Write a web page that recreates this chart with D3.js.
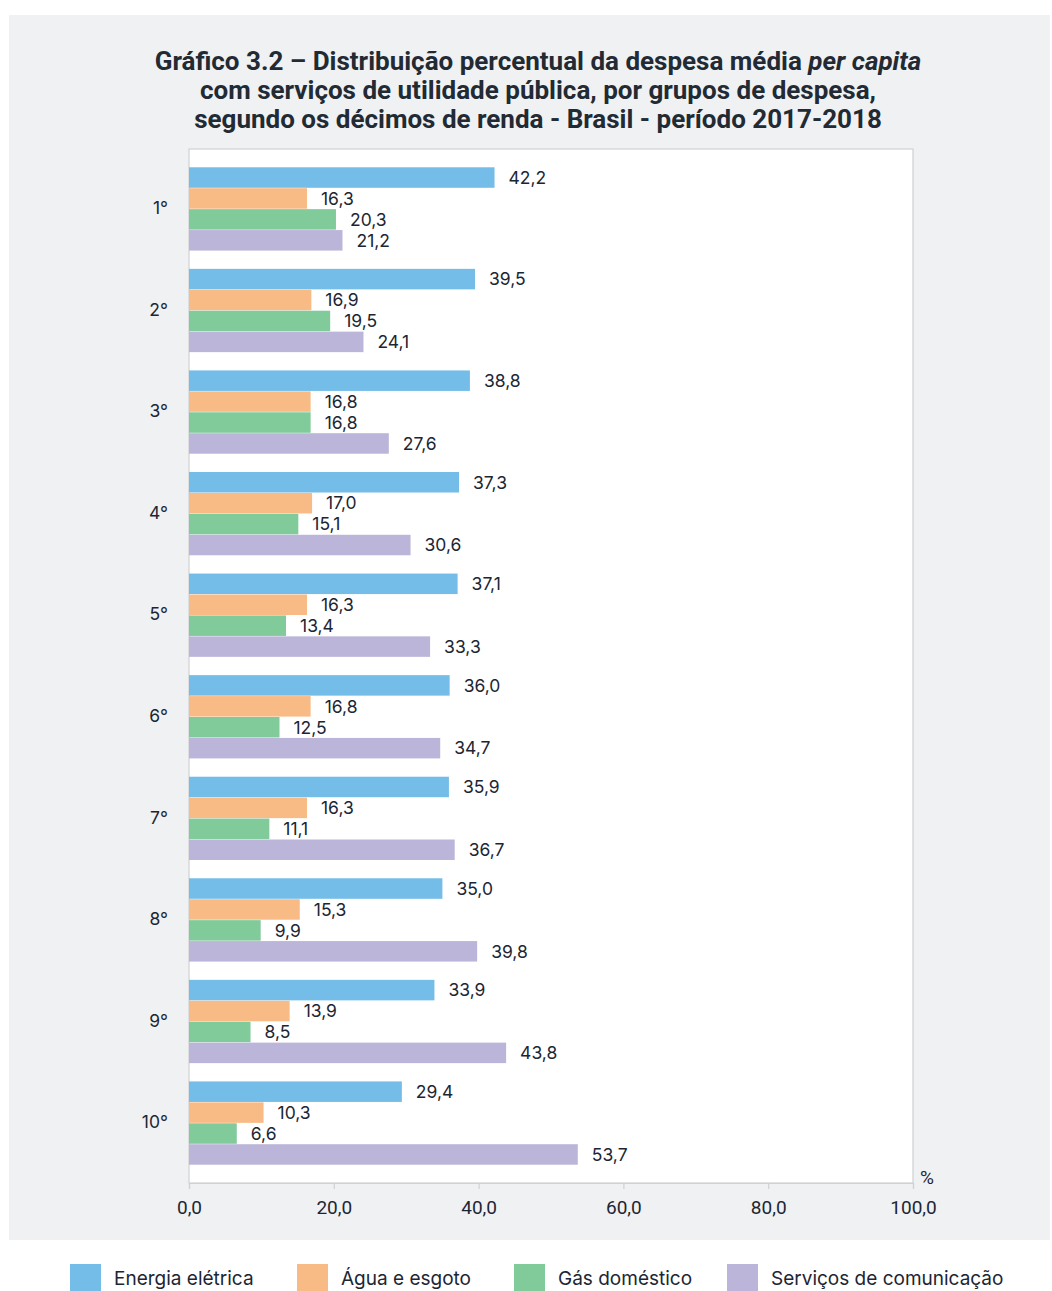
<!DOCTYPE html>
<html lang="pt">
<head>
<meta charset="utf-8">
<script src="https://cdn.jsdelivr.net/npm/d3@7"></script>
<style>
  html, body { margin: 0; padding: 0; background: #ffffff; }
  svg { display: block; }
  .title { font-family: Roboto, "Noto Sans", sans-serif; font-weight: 700; font-size: 26px; fill: #222a33; }
  .val { font-family: Inter, Roboto, sans-serif; font-size: 17.5px; fill: #1c2633; }
  .cat { font-family: Inter, Roboto, sans-serif; font-size: 17.5px; fill: #1c2633; }
  .tick-lbl { font-family: Roboto, "Noto Sans", sans-serif; font-size: 19px; fill: #1c2633; }
  .leg { font-family: Inter, Roboto, sans-serif; font-size: 19px; fill: #1c2633; }
</style>
</head>
<body>
<svg id="chart"></svg>
<script>
// Gráfico 3.2 - despesa per capita com serviços de utilidade pública

const deciles = ['1°', '2°', '3°', '4°', '5°', '6°', '7°', '8°', '9°', '10°'];
const seriesNames = ['Energia elétrica', 'Água e esgoto', 'Gás doméstico', 'Serviços de comunicação'];
const seriesColors = ['#74bde8', '#f9bb86', '#81cb9b', '#bbb6d9'];

const energia = [42.2, 39.5, 38.8, 37.3, 37.1, 36.0, 35.9, 35.0, 33.9, 29.4];
const agua = [16.3, 16.9, 16.8, 17.0, 16.3, 16.8, 16.3, 15.3, 13.9, 10.3];
const gas = [20.3, 19.5, 16.8, 15.1, 13.4, 12.5, 11.1, 9.9, 8.5, 6.6];
const comunicacao = [21.2, 24.1, 27.6, 30.6, 33.3, 34.7, 36.7, 39.8, 43.8, 53.7];

const xTicks = [0, 20, 40, 60, 80, 100];
const titleLines = [
    'Gráfico 3.2 – Distribuição percentual da despesa média ',
    'com serviços de utilidade pública, por grupos de despesa,',
    'segundo os décimos de renda - Brasil - período 2017-2018'
];

(function () {
    const WIDTH = 1052;
    const HEIGHT = 1291;
    const PLOT = { left: 189, right: 913, top: 149, bottom: 1183 };

    const fmt = v => v.toFixed(1).replace('.', ',');
    const allSeries = [energia, agua, gas, comunicacao];

    const rows = deciles.map((d, i) => ({
        decile: d,
        values: allSeries.map((s, k) => ({ key: seriesNames[k], k, value: s[i] }))
    }));

    const svg = d3.select('#chart')
        .attr('width', WIDTH)
        .attr('height', HEIGHT);

    // Gray panel
    svg.append('rect')
        .attr('x', 9).attr('y', 15)
        .attr('width', 1041).attr('height', 1225)
        .attr('fill', '#f0f1f3');

    // Title
    const title = svg.append('text')
        .attr('class', 'title')
        .attr('text-anchor', 'middle');
    titleLines.forEach((line, i) => {
        title.append('tspan')
            .attr('x', 538)
            .attr('y', 70 + i * 29)
            .text(line);
        if (i === 0) {
            title.append('tspan').attr('font-style', 'italic').text('per capita');
        }
    });

    // Scales
    const x = d3.scaleLinear()
        .domain([0, 100])
        .range([PLOT.left, PLOT.right]);

    const y = d3.scaleBand()
        .domain(deciles)
        .range([PLOT.top, PLOT.bottom])
        .paddingInner(0.18)
        .paddingOuter(0.18);

    const ySub = d3.scaleBand()
        .domain(seriesNames)
        .range([0, y.bandwidth()])
        .paddingInner(0.02);

    // Plot area
    svg.append('rect')
        .attr('x', PLOT.left).attr('y', PLOT.top)
        .attr('width', PLOT.right - PLOT.left)
        .attr('height', PLOT.bottom - PLOT.top)
        .attr('fill', '#ffffff')
        .attr('stroke', '#cfd1d4')
        .attr('stroke-width', 1.2);

    // Bars
    const groups = svg.append('g')
        .selectAll('g')
        .data(rows)
        .join('g')
        .attr('transform', d => `translate(0,${y(d.decile)})`);

    groups.selectAll('rect')
        .data(d => d.values)
        .join('rect')
        .attr('x', x(0))
        .attr('y', d => ySub(d.key))
        .attr('width', d => x(d.value) - x(0))
        .attr('height', ySub.bandwidth())
        .attr('fill', d => seriesColors[d.k]);

    groups.selectAll('text.val')
        .data(d => d.values)
        .join('text')
        .attr('class', 'val')
        .attr('x', d => x(d.value) + 14)
        .attr('y', d => ySub(d.key) + ySub.bandwidth() / 2)
        .attr('dy', '0.36em')
        .text(d => fmt(d.value));

    // Category labels
    svg.append('g')
        .selectAll('text')
        .data(deciles)
        .join('text')
        .attr('class', 'cat')
        .attr('x', 168)
        .attr('y', d => y(d) + y.bandwidth() / 2)
        .attr('dy', '0.3em')
        .attr('text-anchor', 'end')
        .text(d => d);

    // X axis
    const xAxis = svg.append('g')
        .attr('transform', `translate(0,${PLOT.bottom})`)
        .call(d3.axisBottom(x).tickValues(xTicks).tickSize(6).tickFormat(fmt));
    xAxis.select('.domain').attr('stroke', '#cfd1d4').attr('stroke-width', 1.2);
    xAxis.selectAll('.tick line').attr('stroke', '#cfd1d4').attr('stroke-width', 1.2);
    xAxis.selectAll('.tick text')
        .attr('class', 'tick-lbl')
        .attr('y', 18)
        .attr('font-family', null)
        .attr('font-size', null)
        .attr('fill', null);

    svg.append('text')
        .attr('class', 'tick-lbl')
        .attr('x', 920)
        .attr('y', 1184)
        .text('%');

    // Legend
    const legendX = [70, 297, 514, 727];
    const legend = svg.append('g')
        .selectAll('g')
        .data(seriesNames)
        .join('g')
        .attr('transform', (d, i) => `translate(${legendX[i]},1264)`);

    legend.append('rect')
        .attr('width', 31).attr('height', 27)
        .attr('fill', (d, i) => seriesColors[i]);

    legend.append('text')
        .attr('class', 'leg')
        .attr('x', 44)
        .attr('y', 14)
        .attr('dy', '0.36em')
        .text(d => d);
})();
</script>
</body>
</html>
